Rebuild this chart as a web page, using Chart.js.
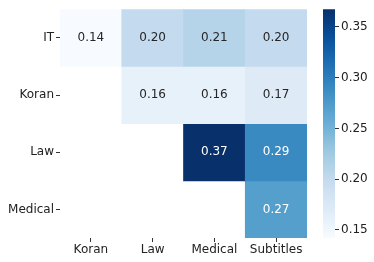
<!DOCTYPE html>
<html>
<head>
<meta charset="utf-8">
<script src="https://cdn.jsdelivr.net/npm/chart.js@4"></script>
<style>
  html, body { margin: 0; padding: 0; background: #fff; }
  #wrap { position: relative; width: 374px; height: 262px; }
  canvas { position: absolute; left: 0; top: 0; }
</style>
</head>
<body>
<div id="wrap">
  <canvas id="heat" width="374" height="262"></canvas>
  <canvas id="cbar" width="374" height="262"></canvas>
</div>
<script>
// heatmap data (upper triangle only)
const rowLabels = ['IT', 'Koran', 'Law', 'Medical'];
const colLabels = ['Koran', 'Law', 'Medical', 'Subtitles'];
const itRow      = [0.14, 0.20, 0.21, 0.20];
const koranRow   = [null, 0.16, 0.16, 0.17];
const lawRow     = [null, null, 0.37, 0.29];
const medicalRow = [null, null, null, 0.27];
const colorbarTicks = [0.15, 0.20, 0.25, 0.30, 0.35];

const rows = [itRow, koranRow, lawRow, medicalRow];
const vmin = 0.142, vmax = 0.3675;

// matplotlib "Blues"
const blues = [
  [247,251,255],[222,235,247],[198,219,239],[158,202,225],[107,174,214],
  [66,146,198],[33,113,181],[8,81,156],[8,48,107]
];
function bluesAt(t) {
  t = Math.max(0, Math.min(1, t));
  const p = t * (blues.length - 1);
  const i = Math.min(Math.floor(p), blues.length - 2);
  const f = p - i;
  const c = blues[i].map((a, k) => Math.round(a + (blues[i + 1][k] - a) * f));
  return 'rgb(' + c.join(',') + ')';
}
const norm = v => (v - vmin) / (vmax - vmin);

Chart.defaults.font.family = '"DejaVu Sans", sans-serif';
Chart.defaults.font.size = 12;
Chart.defaults.color = '#222';

// write values in the centre of each cell
const cellText = {
  id: 'cellText',
  afterDatasetsDraw(chart) {
    const ctx = chart.ctx;
    ctx.save();
    ctx.font = '12px "DejaVu Sans", sans-serif';
    ctx.textAlign = 'center';
    ctx.textBaseline = 'middle';
    chart.data.datasets.forEach((ds, r) => {
      chart.getDatasetMeta(r).data.forEach((bar, c) => {
        const v = rows[r][c];
        if (v == null) return;
        ctx.fillStyle = norm(v) > 0.5 ? '#fff' : '#262626';
        ctx.fillText(v.toFixed(2), bar.x, (bar.y + bar.base) / 2);
      });
    });
    ctx.restore();
  }
};

new Chart(document.getElementById('heat'), {
  type: 'bar',
  data: {
    labels: colLabels,
    datasets: rows.map((vals, r) => ({
      label: rowLabels[r],
      data: vals.map(v => v == null ? null : [r, r + 1]),
      backgroundColor: vals.map(v => v == null ? 'rgba(0,0,0,0)' : bluesAt(norm(v))),
      borderWidth: 0,
      barPercentage: 1,
      categoryPercentage: 1,
      grouped: false
    }))
  },
  options: {
    responsive: false,
    animation: false,
    layout: { padding: { top: 6, right: 67, left: 0, bottom: 0 } },
    plugins: { legend: { display: false }, tooltip: { enabled: false } },
    scales: {
      x: {
        grid: { display: true, drawOnChartArea: false, offset: false, tickLength: 4, tickColor: '#333' },
        border: { display: false },
        ticks: { padding: 1, maxRotation: 0 },
        afterFit(s) { s.height = 24; }
      },
      y: {
        min: 0, max: 4, reverse: true,
        afterBuildTicks(s) { s.ticks = rowLabels.map((_, i) => ({ value: i + 0.5 })); },
        ticks: { callback: v => rowLabels[Math.floor(v)], padding: 2 },
        grid: { display: true, drawOnChartArea: false, tickLength: 4, tickColor: '#333' },
        border: { display: false },
        afterFit(s) { s.width = 60; }
      }
    }
  },
  plugins: [cellText]
});

// colorbar
new Chart(document.getElementById('cbar'), {
  type: 'bar',
  data: {
    labels: [''],
    datasets: [{
      data: [[vmin, vmax]],
      borderWidth: 0,
      barPercentage: 1,
      categoryPercentage: 1,
      backgroundColor(ctx) {
        const a = ctx.chart.chartArea;
        if (!a) return '#fff';
        const g = ctx.chart.ctx.createLinearGradient(0, a.bottom, 0, a.top);
        for (let i = 0; i <= 20; i++) g.addColorStop(i / 20, bluesAt(i / 20));
        return g;
      }
    }]
  },
  options: {
    responsive: false,
    animation: false,
    layout: { padding: { top: 6, right: 0, left: 323, bottom: 24 } },
    plugins: { legend: { display: false }, tooltip: { enabled: false } },
    scales: {
      x: { display: false },
      y: {
        position: 'right',
        min: vmin, max: vmax,
        afterBuildTicks(s) { s.ticks = colorbarTicks.map(v => ({ value: v })); },
        ticks: { callback: v => v.toFixed(2), padding: 2 },
        grid: { display: true, drawOnChartArea: false, tickLength: 4, tickColor: '#333' },
        border: { display: false },
        afterFit(s) { s.width = 39; }
      }
    }
  }
});
</script>
</body>
</html>
